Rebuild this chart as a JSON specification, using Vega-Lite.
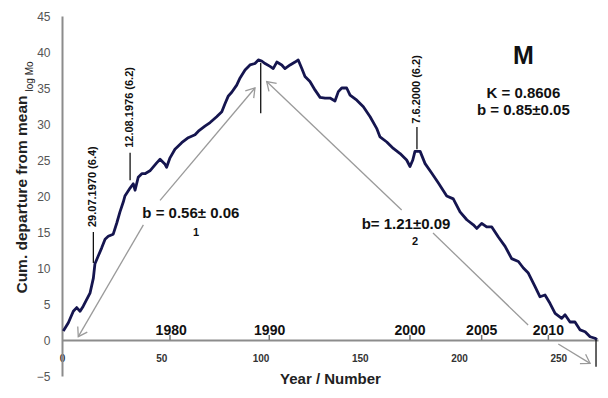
{
  "$schema": "https://vega.github.io/schema/vega-lite/v6.json",
  "width": 536,
  "height": 360,
  "autosize": {"type": "none"},
  "padding": {"left": 62, "top": 16, "right": 10, "bottom": 22},
  "background": "white",
  "config": {"view": {"stroke": null}, "font": "Liberation Sans"},
  "encoding": {
    "x": {"field": "x", "type": "quantitative",
      "scale": {"domain": [0, 270], "nice": false, "zero": false},
      "axis": {"title": "Year / Number", "values": [0, 50, 100, 150, 200, 250], "offset": -36,
        "domainColor": "#8c8c8c", "domainWidth": 2, "ticks": false, "tickSize": 0, "grid": false,
        "labelFont": "Liberation Sans", "labelFontWeight": "bold", "labelFontSize": 10, "labelColor": "#333",
        "labelPadding": 13, "labelFlush": false,
        "titleFont": "Liberation Sans", "titleFontSize": 15, "titleFontWeight": "bold", "titleColor": "#222", "titlePadding": 8}},
    "y": {"field": "y", "type": "quantitative",
      "scale": {"domain": [-5, 45], "nice": false, "zero": false},
      "axis": {"title": "Cum. departure from mean", "values": [-5, 0, 5, 10, 15, 20, 25, 30, 35, 40, 45],
        "domainColor": "#8c8c8c", "domainWidth": 2, "ticks": false, "tickSize": 0, "grid": false,
        "labelFont": "Liberation Sans", "labelFontSize": 12, "labelColor": "#555", "labelPadding": 12,
        "titleFont": "Liberation Sans", "titleFontSize": 15.5, "titleFontWeight": "bold", "titleColor": "#222",
        "titleX": -40.5, "titleY": 178, "titleAngle": 270, "titleBaseline": "middle", "titleAlign": "center"}}
  },
  "layer": [
    {
      "data": {"values": [
        {"seg": "a", "ord": 1, "x": 8.2, "y": 0.46}, {"seg": "a", "ord": 2, "x": 41.0, "y": 16.0},
        {"seg": "b", "ord": 1, "x": 49.4, "y": 19.4}, {"seg": "b", "ord": 2, "x": 97.2, "y": 35.0},
        {"seg": "c", "ord": 1, "x": 103.1, "y": 35.9}, {"seg": "c", "ord": 2, "x": 171.1, "y": 18.06},
        {"seg": "d", "ord": 1, "x": 186.9, "y": 14.86}, {"seg": "d", "ord": 2, "x": 234.8, "y": 2.08},
        {"seg": "e", "ord": 1, "x": 250.0, "y": -0.56}, {"seg": "e", "ord": 2, "x": 266.0, "y": -3.24}
      ]},
      "mark": {"type": "line", "color": "#9a9a9a", "strokeWidth": 1.3},
      "encoding": {"detail": {"field": "seg"}, "order": {"field": "ord", "type": "quantitative"}}
    },
    {
      "data": {"values": [{"x": 8.2, "y": 0.46}]},
      "mark": {"type": "point", "shape": "M-0.55,0.85L0,0L0.55,0.85", "filled": false, "color": "#9a9a9a", "opacity": 1, "strokeWidth": 1.3, "size": 400, "angle": 210},
      "encoding": {}
    },
    {
      "data": {"values": [{"x": 97.2, "y": 35.0}]},
      "mark": {"type": "point", "shape": "M-0.55,0.85L0,0L0.55,0.85", "filled": false, "color": "#9a9a9a", "opacity": 1, "strokeWidth": 1.3, "size": 400, "angle": 40},
      "encoding": {}
    },
    {
      "data": {"values": [{"x": 103.1, "y": 35.9}]},
      "mark": {"type": "point", "shape": "M-0.55,0.85L0,0L0.55,0.85", "filled": false, "color": "#9a9a9a", "opacity": 1, "strokeWidth": 1.3, "size": 400, "angle": 314},
      "encoding": {}
    },
    {
      "data": {"values": [{"x": 266.0, "y": -3.24}]},
      "mark": {"type": "point", "shape": "M-0.55,0.85L0,0L0.55,0.85", "filled": false, "color": "#9a9a9a", "opacity": 1, "strokeWidth": 1.3, "size": 400, "angle": 121},
      "encoding": {}
    },
    {
      "data": {"values": [
        {"x": 0.65, "y": 1.25}, {"x": 3.2, "y": 2.4}, {"x": 5.7, "y": 4.0}, {"x": 7.4, "y": 4.5},
        {"x": 9.1, "y": 4.0}, {"x": 10.7, "y": 4.7}, {"x": 12.4, "y": 5.6}, {"x": 14.1, "y": 6.5},
        {"x": 15.8, "y": 8.6}, {"x": 16.6, "y": 10.6}, {"x": 18.3, "y": 11.7}, {"x": 20.0, "y": 12.8},
        {"x": 21.7, "y": 14.0}, {"x": 23.3, "y": 14.4}, {"x": 25.8, "y": 14.7}, {"x": 27.6, "y": 16.25},
        {"x": 29.2, "y": 17.8}, {"x": 30.9, "y": 19.2}, {"x": 31.7, "y": 20.0}, {"x": 34.3, "y": 21.1},
        {"x": 35.9, "y": 21.7}, {"x": 36.8, "y": 20.8}, {"x": 38.4, "y": 22.6}, {"x": 40.2, "y": 23.1},
        {"x": 41.8, "y": 23.1}, {"x": 44.3, "y": 23.5}, {"x": 47.7, "y": 24.6}, {"x": 49.4, "y": 25.1},
        {"x": 51.9, "y": 24.4}, {"x": 52.7, "y": 24.0}, {"x": 54.4, "y": 25.3}, {"x": 56.9, "y": 26.5},
        {"x": 60.3, "y": 27.4}, {"x": 63.6, "y": 28.1}, {"x": 67.0, "y": 28.5}, {"x": 68.7, "y": 29.0},
        {"x": 72.0, "y": 29.7}, {"x": 74.6, "y": 30.2}, {"x": 77.9, "y": 31.0}, {"x": 80.5, "y": 31.7},
        {"x": 82.1, "y": 32.8}, {"x": 83.8, "y": 33.9}, {"x": 85.5, "y": 34.4}, {"x": 88.0, "y": 35.4},
        {"x": 89.7, "y": 36.4}, {"x": 92.2, "y": 37.5}, {"x": 94.7, "y": 38.2}, {"x": 97.2, "y": 38.4},
        {"x": 98.9, "y": 38.9}, {"x": 100.6, "y": 38.75}, {"x": 102.3, "y": 38.4}, {"x": 104.8, "y": 38.0},
        {"x": 106.4, "y": 37.7}, {"x": 108.2, "y": 38.6}, {"x": 110.7, "y": 38.2}, {"x": 112.3, "y": 37.7},
        {"x": 114.9, "y": 38.2}, {"x": 117.4, "y": 38.6}, {"x": 119.0, "y": 38.9}, {"x": 120.8, "y": 37.7},
        {"x": 122.4, "y": 36.6}, {"x": 124.9, "y": 35.9}, {"x": 127.5, "y": 34.7}, {"x": 130.0, "y": 33.7},
        {"x": 132.5, "y": 33.6}, {"x": 135.0, "y": 33.6}, {"x": 137.5, "y": 33.2}, {"x": 139.2, "y": 34.5},
        {"x": 140.9, "y": 35.0}, {"x": 143.4, "y": 35.0}, {"x": 145.1, "y": 34.0}, {"x": 148.5, "y": 33.3},
        {"x": 151.8, "y": 32.4}, {"x": 155.2, "y": 31.0}, {"x": 158.5, "y": 29.4}, {"x": 160.2, "y": 28.2},
        {"x": 163.6, "y": 27.5}, {"x": 166.9, "y": 26.6}, {"x": 170.3, "y": 25.9}, {"x": 173.6, "y": 25.0},
        {"x": 175.3, "y": 24.1}, {"x": 176.7, "y": 25.0}, {"x": 177.8, "y": 26.2}, {"x": 180.4, "y": 26.2},
        {"x": 182.9, "y": 24.5}, {"x": 186.2, "y": 23.2}, {"x": 189.6, "y": 21.8}, {"x": 193.8, "y": 20.0},
        {"x": 197.1, "y": 19.6}, {"x": 200.5, "y": 17.8}, {"x": 203.9, "y": 16.7}, {"x": 207.2, "y": 16.0},
        {"x": 208.9, "y": 15.5}, {"x": 211.4, "y": 16.2}, {"x": 213.9, "y": 15.7}, {"x": 216.5, "y": 15.7},
        {"x": 219.8, "y": 14.3}, {"x": 223.2, "y": 13.0}, {"x": 226.5, "y": 11.3}, {"x": 229.9, "y": 10.9},
        {"x": 232.4, "y": 10.0}, {"x": 234.9, "y": 9.3}, {"x": 238.3, "y": 7.4}, {"x": 240.8, "y": 6.0},
        {"x": 243.3, "y": 6.25}, {"x": 245.8, "y": 5.1}, {"x": 248.4, "y": 3.7}, {"x": 251.7, "y": 3.0},
        {"x": 253.4, "y": 3.5}, {"x": 255.9, "y": 2.5}, {"x": 258.4, "y": 2.5}, {"x": 261.0, "y": 1.4},
        {"x": 263.5, "y": 1.15}, {"x": 266.0, "y": 0.45}, {"x": 268.5, "y": 0.24}, {"x": 269.5, "y": 0.05}
      ]},
      "mark": {"type": "line", "color": "#15154f", "strokeWidth": 2.8, "strokeJoin": "round"},
      "encoding": {"order": {"field": "x", "type": "quantitative"}}
    },
    {
      "data": {"values": [
        {"x": 15.8, "y": 15.0, "y2": 10.7},
        {"x": 34.3, "y": 26.0, "y2": 22.2},
        {"x": 178.8, "y": 29.6, "y2": 26.5},
        {"x": 100.1, "y": 38.5, "y2": 31.5},
        {"x": 269.0, "y": 0, "y2": -3.7}
      ]},
      "mark": {"type": "rule", "color": "#111", "strokeWidth": 1.3},
      "encoding": {"y2": {"field": "y2"}}
    },
    {
      "data": {"values": [
        {"x": 54.4, "y": 0, "y2": 0.7}, {"x": 104.4, "y": 0, "y2": 0.7}, {"x": 175.3, "y": 0, "y2": 0.7},
        {"x": 211.4, "y": 0, "y2": 0.7}, {"x": 245.0, "y": 0, "y2": 0.7}
      ]},
      "mark": {"type": "rule", "color": "#777", "strokeWidth": 1.5},
      "encoding": {"y2": {"field": "y2"}}
    },
    {
      "data": {"values": [
        {"x": 55.0, "y": 0, "label": "1980"}, {"x": 104.6, "y": 0, "label": "1990"},
        {"x": 175.3, "y": 0, "label": "2000"}, {"x": 211.4, "y": 0, "label": "2005"},
        {"x": 245.0, "y": 0, "label": "2010"}
      ]},
      "mark": {"type": "text", "font": "Liberation Sans", "fontSize": 14, "fontWeight": "bold", "color": "#111", "baseline": "bottom", "dy": -2},
      "encoding": {"text": {"field": "label"}}
    },
    {
      "data": {"values": [
        {"x": 15.8, "y": 21.3, "label": "29.07.1970 (6.4)"},
        {"x": 34.3, "y": 32.3, "label": "12.08.1976 (6.2)"},
        {"x": 178.8, "y": 34.8, "label": "7.6.2000 (6.2)"}
      ]},
      "mark": {"type": "text", "font": "Liberation Sans", "fontSize": 11, "fontWeight": "bold", "color": "#111", "angle": 270, "align": "center", "baseline": "middle"},
      "encoding": {"text": {"field": "label"}}
    },
    {
      "data": {"values": [
        {"x": 64.9, "y": 17.7, "label": "b = 0.56± 0.06"},
        {"x": 173.3, "y": 16.1, "label": "b= 1.21±0.09"},
        {"x": 232.4, "y": 34.35, "label": "K = 0.8606"},
        {"x": 232.4, "y": 31.95, "label": "b = 0.85±0.05"}
      ]},
      "mark": {"type": "text", "font": "Liberation Sans", "fontSize": 15, "fontWeight": "bold", "color": "#111", "align": "center", "baseline": "middle"},
      "encoding": {"text": {"field": "label"}}
    },
    {
      "data": {"values": [
        {"x": 67.5, "y": 14.9, "label": "1"},
        {"x": 177.8, "y": 13.65, "label": "2"}
      ]},
      "mark": {"type": "text", "font": "Liberation Sans", "fontSize": 11, "fontWeight": "bold", "color": "#111", "align": "center", "baseline": "middle"},
      "encoding": {"text": {"field": "label"}}
    },
    {
      "data": {"values": [{"x": 232.4, "y": 39.4, "label": "M"}]},
      "mark": {"type": "text", "font": "Liberation Sans", "fontSize": 25, "fontWeight": "bold", "color": "#111", "align": "center", "baseline": "middle"},
      "encoding": {"text": {"field": "label"}}
    },
    {
      "data": {"values": [{"x": -15.9, "y": 36.6, "label": "log Mo"}]},
      "mark": {"type": "text", "font": "Liberation Sans", "fontSize": 10, "color": "#222", "angle": 270, "align": "center", "baseline": "middle"},
      "encoding": {"text": {"field": "label"}}
    }
  ]
}
